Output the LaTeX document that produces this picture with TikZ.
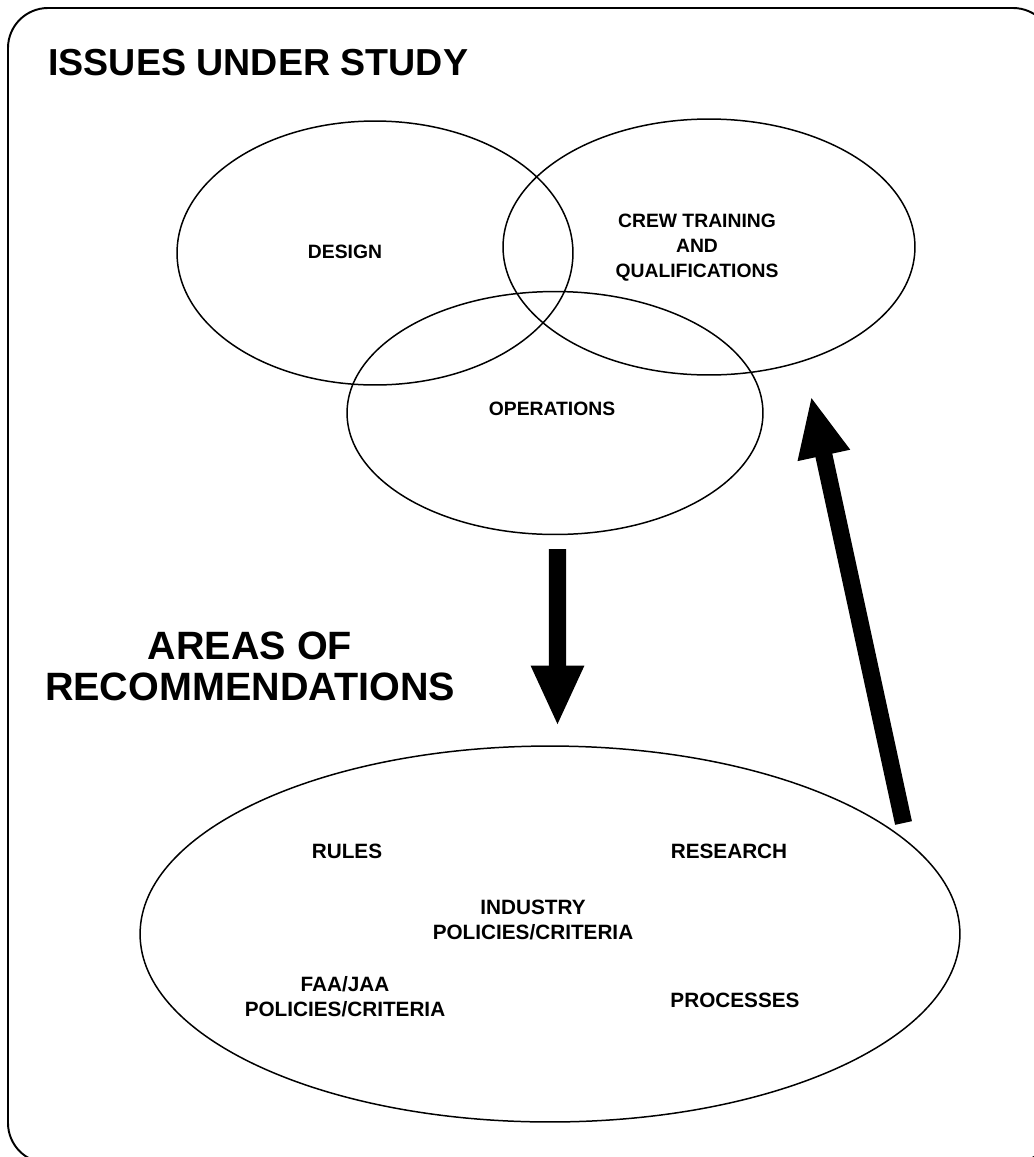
\documentclass[tikz,border=0pt]{standalone}
\usepackage{fontspec}
\setmainfont{Liberation Sans}
\usetikzlibrary{shapes.geometric,arrows.meta}

\tikzset{
  lbl/.style={font=\bfseries\fontsize{11}{14.2}\selectfont, align=center, inner sep=0pt},
  reclbl/.style={lbl, font=\bfseries\fontsize{11.8}{14.2}\selectfont},
  head/.style={font=\bfseries\fontsize{21.4}{23.2}\selectfont, align=center, inner sep=0pt},
  venn/.style={draw, ellipse, line width=0.85pt, inner sep=0pt},
  fatarrow/.style={line width=9.8pt, -{Triangle[length=34.6pt,width=27.8pt]}}
}

\begin{document}
\begin{tikzpicture}[x=0.02cm,y=-0.02cm]
\useasboundingbox (0,0) rectangle (1034,1157);
\draw [line width=1.1pt, rounded corners=0.8cm] (8,8) rectangle (1053,1163);
\node [head, anchor=west] (issues) at (48,63) {ISSUES UNDER STUDY};
\node [venn, minimum width=7.92cm, minimum height=5.28cm] (design) at (375,253) {};
\node [venn, minimum width=8.24cm, minimum height=5.12cm] (crew) at (709,247) {};
\node [venn, minimum width=8.32cm, minimum height=4.86cm] (ops) at (555,413) {};
\node [lbl] (designtxt) at (345,252) {DESIGN};
\node [lbl] (crewtxt) at (697,248) {CREW TRAINING\\AND\\QUALIFICATIONS};
\node [lbl] (opstxt) at (552,409) {OPERATIONS};
\node [head, font=\bfseries\fontsize{22.5}{23.2}\selectfont] (areas) at (250,666) {AREAS OF\\RECOMMENDATIONS};
\node [venn, minimum width=16.4cm, minimum height=7.52cm] (recs) at (550,934) {};
\node [reclbl] (rules) at (347,851) {RULES};
\node [reclbl] (research) at (729,851) {RESEARCH};
\node [reclbl] (industry) at (533,920) {INDUSTRY\\POLICIES/CRITERIA};
\node [reclbl] (faa) at (345,997) {FAA/JAA\\POLICIES/CRITERIA};
\node [reclbl] (processes) at (735,1000) {PROCESSES};
\coordinate (upfoot) at (903.5,823);
\coordinate (uptip) at (811,396);
\draw [fatarrow] ([xshift=0.05cm,yshift=-0.28cm]ops.south) -- ([xshift=0.15cm,yshift=0.38cm]recs.north);
\draw [fatarrow] (upfoot) -- (uptip);
\end{tikzpicture}
\end{document}
